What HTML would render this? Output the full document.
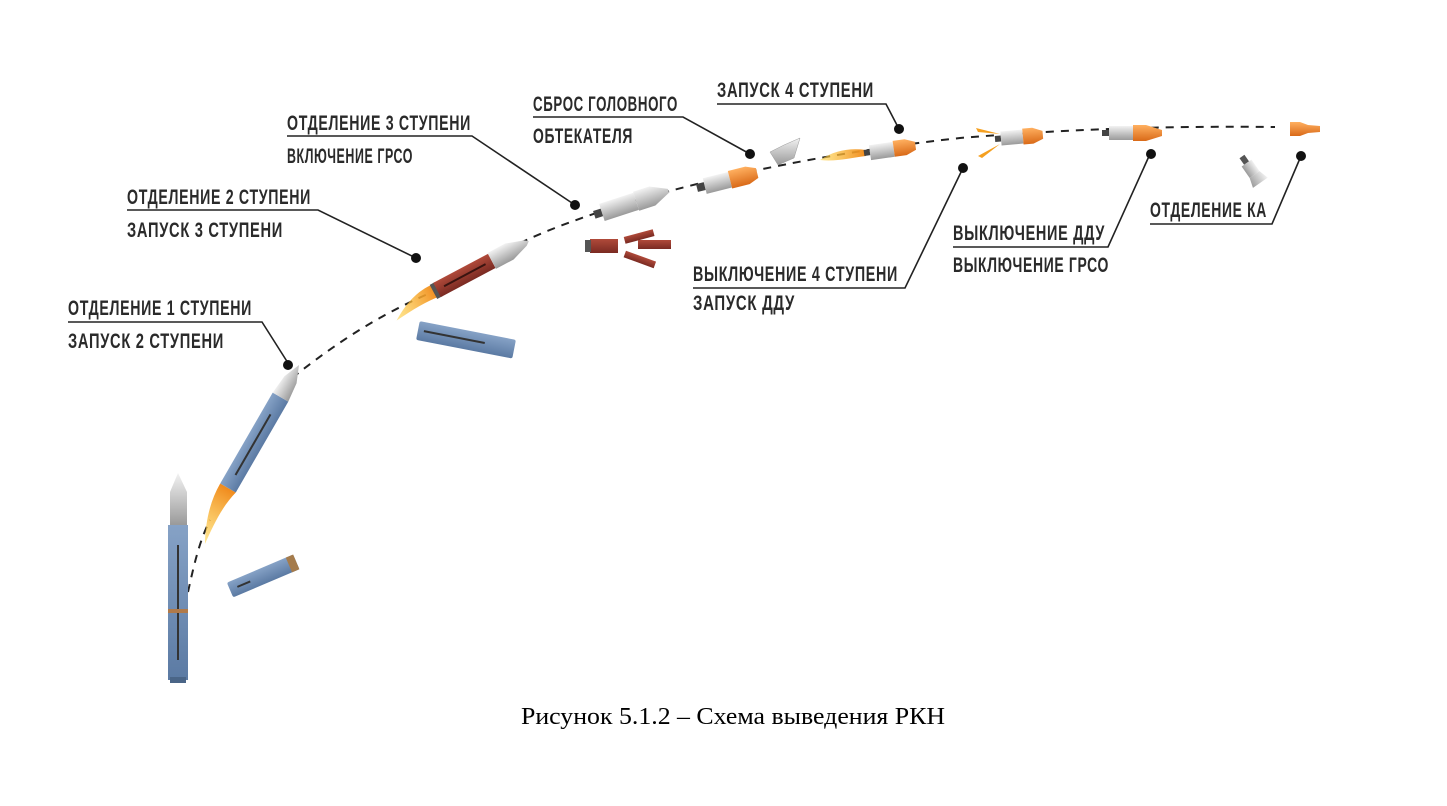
<!DOCTYPE html>
<html><head><meta charset="utf-8"><style>
html,body{margin:0;padding:0;background:#fff;}
body{width:1447px;height:806px;position:relative;overflow:hidden;}
svg{position:absolute;left:0;top:0;}
.l{font-family:"Liberation Sans Narrow","Liberation Sans",sans-serif;font-size:21px;font-weight:bold;fill:#2a2a2a;letter-spacing:1px;}
.cap{font-family:"Liberation Serif",serif;font-size:24px;fill:#000;}
</style></head><body>
<svg width="1447" height="806" viewBox="0 0 1447 806">
<defs>
<linearGradient id="fl" x1="0" x2="1"><stop offset="0" stop-color="#ffd64a" stop-opacity="0.6"/><stop offset="1" stop-color="#f08a1c"/></linearGradient>
<linearGradient id="bl" x1="0" y1="0" x2="0" y2="1"><stop offset="0" stop-color="#86a2c6"/><stop offset="1" stop-color="#5b7aa3"/></linearGradient>
<linearGradient id="si" x1="0" y1="0" x2="0" y2="1"><stop offset="0" stop-color="#f2f2f2"/><stop offset="1" stop-color="#9a9a9a"/></linearGradient>
<linearGradient id="rd" x1="0" y1="0" x2="0" y2="1"><stop offset="0" stop-color="#b04a3a"/><stop offset="1" stop-color="#7a2a22"/></linearGradient>
<linearGradient id="or" x1="0" y1="0" x2="0" y2="1"><stop offset="0" stop-color="#ffb060"/><stop offset="1" stop-color="#d96a18"/></linearGradient>
</defs>
<path d="M188,592 C195,560 200,540 210,520 M292,378 C340,340 380,315 430,293 M520,243 C600,205 760,160 960,138 C1080,128 1180,126 1275,127" fill="none" stroke="#222" stroke-width="2" stroke-dasharray="8,7"/>

<g>
<path d="M178,473 L170,492 L170,525 L187,525 L187,492 Z" fill="url(#si)"/>
<rect x="168" y="525" width="20" height="155" fill="url(#bl)"/>
<rect x="170" y="677" width="16" height="6" fill="#4a6587"/>
<line x1="178" y1="545" x2="178" y2="660" stroke="#333" stroke-width="2"/>
<rect x="168" y="609" width="20" height="4" fill="#b07a4a"/>
</g>
<g transform="translate(228,488) rotate(-60)">
<path d="M0,-9 C-20,-9 -40,-3 -60,8 C-40,6 -20,4 0,9 Z" fill="url(#fl)"/>
<rect x="0" y="-9" width="105" height="18" fill="url(#bl)"/>
<line x1="15" y1="0" x2="85" y2="0" stroke="#333" stroke-width="2"/>
<path d="M105,-9 L125,-7 L142,0 L125,7 L105,9 Z" fill="url(#si)"/>
</g>
<g transform="translate(230,590) rotate(-23)">
<rect x="0" y="-8" width="72" height="16" rx="2" fill="url(#bl)"/>
<rect x="64" y="-8" width="8" height="16" fill="#a57b4b"/>
<line x1="8" y1="0" x2="22" y2="0" stroke="#333" stroke-width="2"/>
</g>
<g transform="translate(437,290) rotate(-28)">
<path d="M0,-7 C-18,-9 -35,-2 -50,8 C-30,6 -15,5 0,7 Z" fill="url(#fl)"/>
<rect x="-4" y="-8" width="6" height="16" fill="#555"/>
<rect x="0" y="-8" width="62" height="16" fill="url(#rd)"/>
<line x1="8" y1="0" x2="55" y2="0" stroke="#3a1410" stroke-width="2"/>
<path d="M62,-9 L82,-9 L100,-3 L104,0 L100,3 L82,9 L62,9 Z" fill="url(#si)"/>
</g>
<g transform="translate(418,330) rotate(11)">
<rect x="0" y="-9" width="98" height="19" rx="2" fill="url(#bl)"/>
<line x1="6" y1="0" x2="68" y2="0" stroke="#333" stroke-width="2"/>
</g>
<rect x="590" y="239" width="28" height="14" fill="url(#rd)"/>
<rect x="585" y="240" width="6" height="12" fill="#555"/>
<rect x="624" y="233" width="30" height="7" fill="url(#rd)" transform="rotate(-15 639 236)"/>
<rect x="638" y="240" width="33" height="9" fill="url(#rd)"/>
<rect x="624" y="256" width="32" height="7" fill="url(#rd)" transform="rotate(20 640 259)"/>
<g transform="translate(600,213) rotate(-18)">
<rect x="-6" y="-4" width="8" height="8" fill="#444"/>
<rect x="2" y="-9" width="36" height="18" fill="url(#si)"/>
<path d="M38,-10 L55,-10 L72,-2 L72,2 L55,10 L38,10 Z" fill="url(#si)"/>
</g>
<g transform="translate(697,188) rotate(-14)">
<rect x="0" y="-4" width="8" height="8" fill="#444"/>
<rect x="8" y="-8" width="26" height="16" fill="url(#si)"/>
<path d="M34,-9 L52,-9 L62,-5 L62,5 L52,9 L34,9 Z" fill="url(#or)"/>
</g>
<path d="M770,152 L784,145 L800,138 L794,158 L778,165 Z" fill="url(#si)" stroke="#999" stroke-width="0.5"/>
<path d="M820,160 C835,150 850,148 866,150 L866,156 C850,158 835,162 820,160 Z" fill="url(#fl)"/>
<g transform="translate(864,153) rotate(-8)">
<rect x="0" y="-3" width="6" height="6" fill="#444"/>
<rect x="6" y="-7" width="24" height="15" fill="url(#si)"/>
<path d="M30,-8 L42,-8 L52,-4 L52,4 L42,8 L30,8 Z" fill="url(#or)"/>
</g>
<path d="M976,128 L1000,134 L978,132 Z M978,156 L1000,144 L982,158 Z" fill="#f5a020"/>
<g transform="translate(995,139) rotate(-5)">
<rect x="0" y="-3" width="6" height="6" fill="#444"/>
<rect x="6" y="-7" width="22" height="14" fill="url(#si)"/>
<path d="M28,-8 L38,-8 L48,-4 L48,4 L38,8 L28,8 Z" fill="url(#or)"/>
</g>
<g transform="translate(1102,133)">
<rect x="0" y="-3" width="7" height="6" fill="#444"/>
<rect x="7" y="-7" width="24" height="14" fill="url(#si)"/>
<path d="M31,-8 L44,-8 L60,-3 L60,3 L44,8 L31,8 Z" fill="url(#or)"/>
</g>
<path d="M1290,122 L1300,122 L1308,125 L1320,126 L1320,132 L1308,133 L1300,136 L1290,136 Z" fill="url(#or)"/>
<g transform="translate(1250,168) rotate(55)">
<rect x="-14" y="-3" width="8" height="6" fill="#555"/>
<rect x="-6" y="-6" width="14" height="12" fill="url(#si)"/>
<path d="M8,-6 L18,-9 L18,9 L8,6 Z" fill="url(#si)"/>
</g>

<g fill="none" stroke="#222" stroke-width="1.6">
<polyline points="68,322 262,322 288,363"/>
<polyline points="127,210 318,210 416,258"/>
<polyline points="287,136 472,136 575,205"/>
<polyline points="533,117 683,117 750,154"/>
<polyline points="717,104 886,104 899,129"/>
<polyline points="693,288 905,288 963,168"/>
<polyline points="953,247 1108,247 1150,154"/>
<polyline points="1150,224 1272,224 1301,156"/>
</g>
<g fill="#111">
<circle cx="288" cy="365" r="5"/><circle cx="416" cy="258" r="5"/><circle cx="575" cy="205" r="5"/>
<circle cx="750" cy="154" r="5"/><circle cx="899" cy="129" r="5"/><circle cx="963" cy="168" r="5"/>
<circle cx="1151" cy="154" r="5"/><circle cx="1301" cy="156" r="5"/>
</g>
<g class="l">
<text x="68" y="315" textLength="184" lengthAdjust="spacingAndGlyphs">ОТДЕЛЕНИЕ 1 СТУПЕНИ</text>
<text x="68" y="348" textLength="156" lengthAdjust="spacingAndGlyphs">ЗАПУСК 2 СТУПЕНИ</text>
<text x="127" y="204" textLength="184" lengthAdjust="spacingAndGlyphs">ОТДЕЛЕНИЕ 2 СТУПЕНИ</text>
<text x="127" y="237" textLength="156" lengthAdjust="spacingAndGlyphs">ЗАПУСК 3 СТУПЕНИ</text>
<text x="287" y="130" textLength="184" lengthAdjust="spacingAndGlyphs">ОТДЕЛЕНИЕ 3 СТУПЕНИ</text>
<text x="287" y="163" textLength="126" lengthAdjust="spacingAndGlyphs">ВКЛЮЧЕНИЕ ГРСО</text>
<text x="533" y="111" textLength="145" lengthAdjust="spacingAndGlyphs">СБРОС ГОЛОВНОГО</text>
<text x="533" y="143" textLength="100" lengthAdjust="spacingAndGlyphs">ОБТЕКАТЕЛЯ</text>
<text x="717" y="97" textLength="157" lengthAdjust="spacingAndGlyphs">ЗАПУСК 4 СТУПЕНИ</text>
<text x="693" y="281" textLength="205" lengthAdjust="spacingAndGlyphs">ВЫКЛЮЧЕНИЕ 4 СТУПЕНИ</text>
<text x="693" y="310" textLength="102" lengthAdjust="spacingAndGlyphs">ЗАПУСК ДДУ</text>
<text x="953" y="240" textLength="152" lengthAdjust="spacingAndGlyphs">ВЫКЛЮЧЕНИЕ ДДУ</text>
<text x="953" y="272" textLength="156" lengthAdjust="spacingAndGlyphs">ВЫКЛЮЧЕНИЕ ГРСО</text>
<text x="1150" y="217" textLength="117" lengthAdjust="spacingAndGlyphs">ОТДЕЛЕНИЕ КА</text>
</g>
<text class="cap" x="521" y="724" textLength="424" lengthAdjust="spacingAndGlyphs">Рисунок 5.1.2 – Схема выведения РКН</text>
</svg>
</body></html>
